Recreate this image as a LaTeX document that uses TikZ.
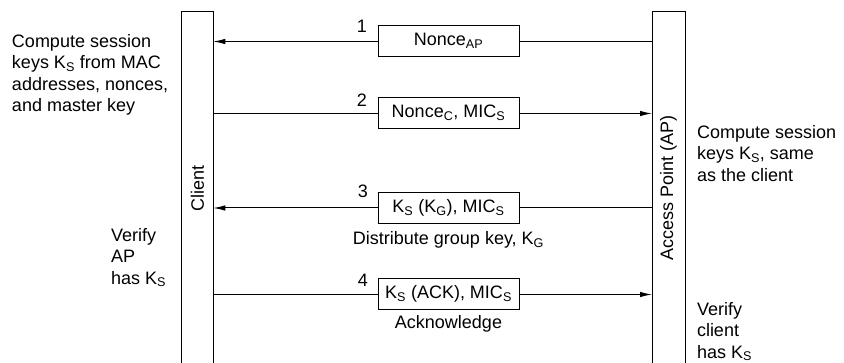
\documentclass[tikz,border=0pt]{standalone}
\usepackage{fontspec}
\setmainfont{Liberation Sans}
\usetikzlibrary{arrows.meta}
\newcommand{\sbs}[1]{\textsubscript{#1}}
\begin{document}
\begin{tikzpicture}[x=1pt,y=-1pt,
  every node/.style={inner sep=0pt,outer sep=0pt,font=\fontsize{18}{21.5}\selectfont},
  bar/.style={minimum width=#1,minimum height=351.5},
  barline/.style={line width=1pt},
  msgbox/.style={draw,line width=1pt,fill=white,minimum width=141,minimum height=31,text height=13,text depth=4},
  msg/.style={line width=1pt},
  msgarrow/.style={line width=1pt,-{Latex[length=12pt,width=5.5pt]}},
  note/.style={align=left,anchor=north west},
  numlabel/.style={anchor=base}]
\useasboundingbox (0,0) rectangle (844,363);
% bars
\node[bar=31.5] (client) at (197.5,187.25) {};
\node[bar=33] (ap) at (668.5,187.25) {};
\draw[barline] (client.south west) -- (client.north west) -- (client.north east) -- (client.south east);
\draw[barline] (ap.south west) -- (ap.north west) -- (ap.north east) -- (ap.south east);
\node[rotate=90] (clientlbl) at (197.5,188) {Client};
\node[rotate=90] (aplbl) at (668.5,188) {Access Point (AP)};
% message boxes
\node[msgbox] (b1) at (448.5,41.5) {Nonce\sbs{AP}};
\node[msgbox] (b2) at (448.5,113.5) {Nonce\sbs{C}, MIC\sbs{S}};
\node[msgbox] (b3) at (448.5,208) {K\sbs{S} (K\sbs{G}), MIC\sbs{S}};
\node[msgbox] (b4) at (448.5,294.5) {K\sbs{S} (ACK), MIC\sbs{S}};
% connectors
\draw[msg] (ap.west |- b1.east) -- (b1.east);
\draw[msgarrow] (b1.west) -- (client.east |- b1.west);
\draw[msg] (client.east |- b2.west) -- (b2.west);
\draw[msgarrow] (b2.east) -- (ap.west |- b2.east);
\draw[msg] (ap.west |- b3.east) -- (b3.east);
\draw[msgarrow] (b3.west) -- (client.east |- b3.west);
\draw[msg] (client.east |- b4.west) -- (b4.west);
\draw[msgarrow] (b4.east) -- (ap.west |- b4.east);
% numbers
\node[numlabel] (n1) at (362,33) {1};
\node[numlabel] (n2) at (362,107) {2};
\node[numlabel] (n3) at (363,198) {3};
\node[numlabel] (n4) at (363,287) {4};
% captions
\node[anchor=base] (c3) at (448.5,245) {Distribute group key, K\sbs{G}};
\node[anchor=base] (c4) at (448.5,329) {Acknowledge};
% notes
\node[note] (t1) at (12,34.3) {Compute session\\keys K\sbs{S} from MAC\\addresses, nonces,\\and master key};
\node[note] (t2) at (697,125) {Compute session\\keys K\sbs{S}, same\\as the client};
\node[note] (t3) at (111,228) {Verify\\AP\\has K\sbs{S}};
\node[note] (t4) at (697,302) {Verify\\client\\has K\sbs{S}};
\end{tikzpicture}
\end{document}
